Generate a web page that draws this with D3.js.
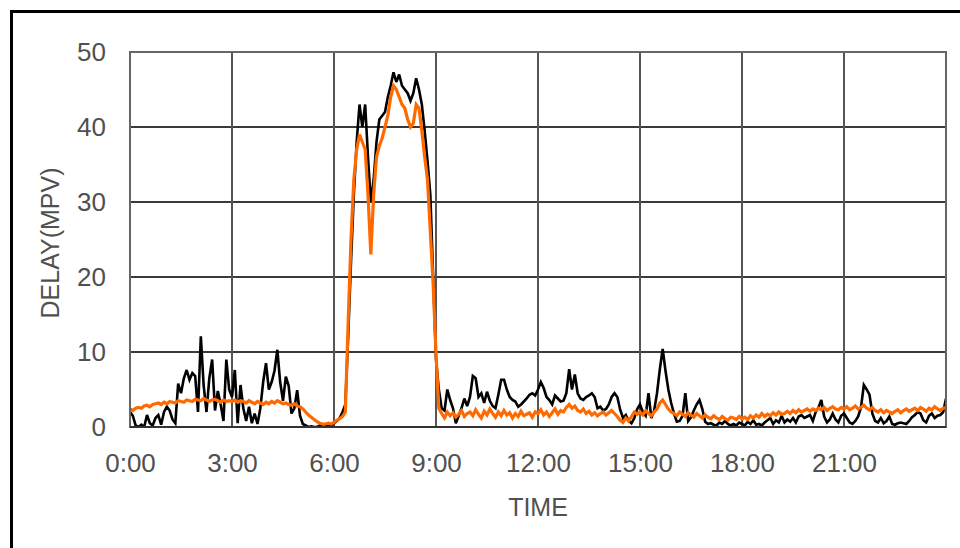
<!DOCTYPE html>
<html>
<head>
<meta charset="utf-8">
<script src="https://cdn.jsdelivr.net/npm/d3@7"></script>
<style>
  body { margin: 0; background: #fff; }
  svg text { font-family: "Liberation Sans", Arial, sans-serif; fill: #505050; }
</style>
</head>
<body>
<svg id="chart" width="960" height="548"></svg>
<script>
// Delay over one day, sampled every 5 minutes (12 samples per hour, plus 24:00)
const sampleMinutes = 5;

// measured delay (black)
const measured = [
  2, 1.5, 0.2, 0, 0.3, 0, 1.6, 0.5, 0.2, 1.2, 1.6, 0.3,
  2.0, 2.7, 2.2, 1.0, 0.5, 5.8, 4.5, 6.5, 7.6, 6.3, 7.2, 6.8,
  2.0, 12.1, 5.5, 2.0, 6.5, 9.0, 2.2, 4.8, 3.0, 0.8, 9.0, 5.0,
  4.0, 7.6, 0.5, 5.6, 2.5, 0.8, 2.7, 0.5, 1.8, 0.4, 2.5, 6.0,
  8.5, 5.0, 6.0, 7.5, 10.3, 6.0, 3.5, 6.7, 5.5, 1.8, 2.5, 4.9,
  1.5, 0.4, 0.2, 0, 0.1, 0, 0, 0.2, 0, 0.1, 0.3, 0.2,
  0.5, 0.8, 1.2, 2.0, 3.0, 12, 22, 31, 38, 43, 40, 43,
  36, 30, 33, 38, 41, 41.5, 42, 44, 45.5, 47.3, 46, 47,
  45.5, 45, 44.5, 43.5, 44.5, 46.5, 45, 43, 39.5, 35.5, 31, 20,
  9, 5, 2.5, 2.2, 5, 3.6, 2.5, 0.5, 1.5, 2.5, 3.8, 2.8,
  4, 6.8, 6.5, 4, 4.5, 3.2, 4.7, 3.5, 2.8, 2.5, 4.3, 6.3,
  6.3, 5, 4, 3.6, 3.4, 2.7, 3, 3.4, 3.8, 4.3, 4.5, 4.2,
  5, 6, 5.2, 4, 3.6, 3, 4.2, 3.8, 3.4, 3.5, 4.5, 7.7,
  5, 7, 4.5, 3.8, 3.6, 4, 4.2, 4.5, 4, 2.5, 2.7, 2.2,
  2.4, 3, 4, 4.5, 4, 2.3, 1.2, 1.6, 0.8, 0.5, 1.2, 2.4,
  3, 2, 1.5, 4.5, 1.2, 2.2, 4.5, 7.7, 10.4, 7.5, 5, 3.2,
  1.8, 0.7, 0.8, 1.5, 4.5, 0.8, 1.3, 2.2, 3.0, 3.6, 2.4, 0.7,
  0.4, 0.5, 0.3, 0.2, 0.6, 0.4, 0.8, 0.4, 0.2, 0.4, 0.2, 0.6,
  0.4, 0.2, 0.7, 0.4, 0.9, 0.3, 0.4, 0.2, 0.6, 0.9, 1.2, 0.4,
  0.9, 0.6, 1.5, 0.6, 1.0, 0.7, 1.2, 0.6, 1.4, 1.6, 1.2, 1.4,
  1.6, 0.8, 2.0, 2.6, 3.6, 1.4, 0.6, 1.0, 1.8, 1.0, 0.6, 1.5,
  1.8, 1.2, 0.6, 0.4, 0.8, 1.4, 2.6, 5.6, 5.0, 4.3, 1.8, 0.8,
  0.6, 1.2, 0.5, 0.8, 1.4, 0.4, 0.3, 0.5, 0.6, 0.5, 0.4, 0.8,
  1.3, 1.6, 2.0, 1.8, 0.9, 0.6, 1.5, 1.8, 1.2, 1.5, 1.6, 2.0,
  3.8
];

// estimated delay (orange)
const estimated = [
  2.4, 2.2, 2.5, 2.6, 2.5, 2.8, 2.9, 2.7, 3.0, 3.1, 3.2, 3.0,
  3.3, 3.1, 3.4, 3.3, 3.2, 3.5, 3.4, 3.3, 3.6, 3.5, 3.4, 3.7,
  3.6, 3.5, 3.8, 3.6, 3.4, 3.6, 3.7, 3.5, 3.3, 3.6, 3.4, 3.5,
  3.4, 3.6, 3.3, 3.5, 3.4, 3.2, 3.5, 3.3, 3.1, 3.4, 3.2, 3.0,
  3.3, 3.1, 3.4, 3.2, 3.5, 3.3, 3.1, 3.2, 3.0, 2.9, 3.1, 2.8,
  2.7, 2.4, 2.0, 1.6, 1.3, 1.0, 0.7, 0.5, 0.4, 0.4, 0.5, 0.4,
  0.6, 0.9, 1.1, 1.4, 2.0, 14, 25, 33, 37, 39, 38, 37,
  31, 23, 31, 36, 37.5, 38.5, 40, 41.5, 44, 45.5, 45, 44,
  43, 42.5, 41, 40, 40.5, 43, 42.5, 39.5, 36, 33, 26, 19,
  9.8, 2.5, 1.8, 1.2, 2.0, 1.5, 1.9, 1.3, 1.7, 2.2, 1.4, 1.8,
  2.0, 1.5, 2.3, 1.7, 1.2, 2.1, 1.6, 2.4, 1.8, 1.3, 2.0, 1.5,
  2.2, 1.6, 1.9, 1.2, 1.8, 1.4, 2.1, 1.5, 1.7, 1.9, 1.3, 2.0,
  1.8, 2.3, 1.6, 2.0, 1.4, 1.9, 2.4, 1.7, 2.2, 2.0, 2.6, 3.0,
  2.5, 2.8, 2.2, 2.0, 2.4, 1.8, 2.1, 1.6, 1.9, 1.5, 1.8, 2.0,
  1.6, 1.9, 2.2, 1.8, 1.4, 0.9, 0.6, 1.2, 0.8, 1.4, 2.0, 1.7,
  2.0, 1.6, 2.2, 1.8, 1.5, 2.0, 2.4, 3.2, 3.6, 3.0, 2.4, 2.0,
  1.8, 1.5, 2.0, 1.7, 1.4, 1.9, 1.6, 1.3, 1.8, 1.5, 1.2, 1.6,
  1.3, 1.1, 1.5, 1.2, 1.0, 1.4, 1.1, 0.9, 1.3, 1.2, 1.0, 1.4,
  1.1, 1.3, 1.0, 1.5, 1.2, 1.6, 1.3, 1.8, 1.4, 1.7, 1.5, 1.9,
  1.6, 2.0, 1.7, 1.8, 2.1, 1.8, 2.2, 1.9, 2.3, 2.0, 2.2, 2.4,
  2.1, 2.4, 2.2, 2.5, 2.3, 2.6, 2.2, 2.5, 2.7, 2.4, 2.3, 2.6,
  2.4, 2.7, 2.3, 2.5, 2.8, 2.4, 2.6, 2.9, 2.5, 2.3, 2.6, 2.2,
  2.0, 2.3, 1.9, 2.2, 2.0, 1.8, 2.1, 2.3, 1.9, 2.2, 2.4, 2.1,
  2.3, 2.5, 2.2, 2.6, 2.4, 2.1, 2.5, 2.3, 2.7, 2.4, 2.2, 2.5,
  2.6
];

const xTickHours = [0, 3, 6, 9, 12, 15, 18, 21];
const xTickLabels = ["0:00", "3:00", "6:00", "9:00", "12:00", "15:00", "18:00", "21:00"];
const xGridHours = [3, 6, 9, 12, 15, 18, 21];
const yTicks = [0, 10, 20, 30, 40, 50];
const yGrid = [10, 20, 30, 40];

const svg = d3.select("#chart");
const plot = { left: 130, right: 946, top: 52, bottom: 427 };

const x = d3.scaleLinear().domain([0, 24]).range([plot.left, plot.right]);
const y = d3.scaleLinear().domain([0, 50]).range([plot.bottom, plot.top]);

// outer frame (open to the right and bottom)
svg.append("path")
  .attr("d", `M11.5,548V11.5H960`)
  .attr("fill", "none")
  .attr("stroke", "#000")
  .attr("stroke-width", 3);

// grid
const grid = svg.append("g");
grid.selectAll("line.h").data(yGrid).join("line")
  .attr("x1", plot.left).attr("x2", plot.right)
  .attr("y1", d => y(d)).attr("y2", d => y(d))
  .attr("stroke", "#3a3a3a").attr("stroke-width", 2);
grid.selectAll("line.v").data(xGridHours).join("line")
  .attr("x1", d => x(d)).attr("x2", d => x(d))
  .attr("y1", plot.top).attr("y2", plot.bottom)
  .attr("stroke", "#555").attr("stroke-width", 2);

svg.append("defs").append("clipPath").attr("id", "plotClip")
  .append("rect")
  .attr("x", plot.left).attr("y", plot.top - 2)
  .attr("width", plot.right - plot.left).attr("height", plot.bottom - plot.top + 2);

const line = d3.line()
  .x((d, i) => x(i * sampleMinutes / 60))
  .y(d => y(d));

const series = svg.append("g").attr("clip-path", "url(#plotClip)");
series.append("path").datum(measured)
  .attr("d", line).attr("fill", "none")
  .attr("stroke", "#000").attr("stroke-width", 2.6)
  .attr("stroke-linejoin", "miter").attr("stroke-miterlimit", 3);
series.append("path").datum(estimated)
  .attr("d", line).attr("fill", "none")
  .attr("stroke", "#ff6a00").attr("stroke-width", 3.2)
  .attr("stroke-linejoin", "miter").attr("stroke-miterlimit", 3);

// plot border
svg.append("rect")
  .attr("x", plot.left).attr("y", plot.top)
  .attr("width", plot.right - plot.left).attr("height", plot.bottom - plot.top)
  .attr("fill", "none").attr("stroke", "#666").attr("stroke-width", 2);
svg.append("line")
  .attr("x1", plot.left).attr("x2", plot.right)
  .attr("y1", plot.bottom).attr("y2", plot.bottom)
  .attr("stroke", "#333").attr("stroke-width", 2);

// axes (labels only)
const yAxis = svg.append("g")
  .attr("transform", `translate(${plot.left},0)`)
  .call(d3.axisLeft(y).tickValues(yTicks).tickSize(0).tickPadding(24));
const xAxis = svg.append("g")
  .attr("transform", `translate(0,${plot.bottom})`)
  .call(d3.axisBottom(x).tickValues(xTickHours)
    .tickFormat((d, i) => xTickLabels[i]).tickSize(0).tickPadding(27));
[yAxis, xAxis].forEach(g => {
  g.select(".domain").remove();
  g.selectAll("text").attr("font-size", 26).attr("font-family", null).attr("fill", null);
});

svg.append("text")
  .attr("x", 538).attr("y", 516)
  .attr("text-anchor", "middle").attr("font-size", 25)
  .text("TIME");
svg.append("text")
  .attr("transform", "translate(59,243) rotate(-90)")
  .attr("text-anchor", "middle").attr("font-size", 25)
  .text("DELAY(MPV)");
</script>
</body>
</html>
